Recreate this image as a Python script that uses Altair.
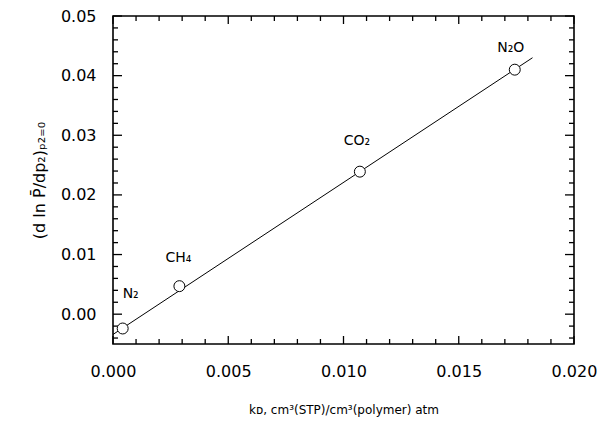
import altair as alt
import pandas as pd

# data
gases = ["N₂", "CH₄", "CO₂", "N₂O"]
kd = [0.00042, 0.00288, 0.01071, 0.01743]
slope_val = [-0.0024, 0.0047, 0.0239, 0.0410]

fit_x = [0.0, 0.0182]
fit_y = [-0.0034, 0.0430]

x_major = [0.000, 0.005, 0.010, 0.015, 0.020]
x_minor = [0.001, 0.002, 0.003, 0.004, 0.006, 0.007, 0.008, 0.009,
           0.011, 0.012, 0.013, 0.014, 0.016, 0.017, 0.018, 0.019]
y_major = [0.00, 0.01, 0.02, 0.03, 0.04, 0.05]
y_minor = [-0.004, -0.002, 0.002, 0.004, 0.006, 0.008, 0.012, 0.014, 0.016, 0.018,
           0.022, 0.024, 0.026, 0.028, 0.032, 0.034, 0.036, 0.038,
           0.042, 0.044, 0.046, 0.048]

W, H = 461, 328
FONT = "DejaVu Sans"

xs = alt.Scale(domain=[0, 0.02], nice=False, zero=False)
ys = alt.Scale(domain=[-0.005, 0.05], nice=False, zero=False)

pts = pd.DataFrame({"gas": gases, "x": kd, "y": slope_val})
fit = pd.DataFrame({"x": fit_x, "y": fit_y})

xaxis = alt.Axis(values=x_major, format=".3f", ticks=False, domain=False, grid=False,
                 labelFlush=False, labelPadding=19, labelFontSize=16, labelFont=FONT,
                 labelColor="black",
                 title="kᴅ, cm³(STP)/cm³(polymer) atm", titleFont=FONT, titleColor="black",
                 titleFontSize=12, titleFontWeight="normal", titlePadding=25)
yaxis = alt.Axis(values=y_major, format=".2f", ticks=False, domain=False, grid=False,
                 labelFlush=False, labelPadding=17, labelFontSize=16, labelFont=FONT,
                 labelColor="black",
                 title="(d ln P̄/dp₂)ₚ₂₌₀", titleFont=FONT, titleColor="black",
                 titleFontSize=16, titleFontWeight="normal", titlePadding=13)

line = alt.Chart(fit).mark_line(color="black", strokeWidth=1).encode(
    x=alt.X("x:Q", scale=xs, axis=xaxis),
    y=alt.Y("y:Q", scale=ys, axis=yaxis),
)

circles = alt.Chart(pts).mark_point(shape="circle", size=120, filled=True, fill="white",
                                    stroke="black", strokeWidth=1, opacity=1).encode(
    x=alt.X("x:Q", scale=xs), y=alt.Y("y:Q", scale=ys))

offsets = {"N₂": (8, -34), "CH₄": (-1, -28), "CO₂": (-3, -31), "N₂O": (-4, -22)}
labels = []
for g, (dx, dy) in offsets.items():
    labels.append(
        alt.Chart(pts).transform_filter(alt.datum.gas == g)
        .mark_text(font=FONT, fontSize=14, dx=dx, dy=dy, color="black")
        .encode(x=alt.X("x:Q", scale=xs), y=alt.Y("y:Q", scale=ys), text="gas:N")
    )

def xticks(vals, length, top):
    df = pd.DataFrame({"v": vals})
    if top:
        yy, yy2 = alt.value(0), alt.value(length)
    else:
        yy, yy2 = alt.value(H), alt.value(H - length)
    return alt.Chart(df).mark_rule(color="black", strokeWidth=1.3).encode(
        x=alt.X("v:Q", scale=xs), y=yy, y2=yy2)

def yticks(vals, length, right):
    df = pd.DataFrame({"v": vals})
    if right:
        xx, xx2 = alt.value(W), alt.value(W - length)
    else:
        xx, xx2 = alt.value(0), alt.value(length)
    return alt.Chart(df).mark_rule(color="black", strokeWidth=1.3).encode(
        y=alt.Y("v:Q", scale=ys), x=xx, x2=xx2)

ticks = [
    xticks(x_major, 8, False), xticks(x_minor, 5, False),
    xticks(x_major, 8, True), xticks(x_minor, 5, True),
    yticks(y_major, 9, False), yticks(y_minor, 5, False),
    yticks(y_major, 9, True), yticks(y_minor, 5, True),
]

chart = alt.layer(line, *ticks, circles, *labels).properties(
    width=W, height=H,
    autosize=alt.AutoSizeParams(type="none"),
    padding={"left": 113, "top": 16, "right": 24, "bottom": 85},
).configure(
    background="white",
    view=alt.ViewConfig(stroke="black", strokeWidth=1.6),
)

chart.save("out.html", embed_options={"renderer": "svg", "actions": False})
